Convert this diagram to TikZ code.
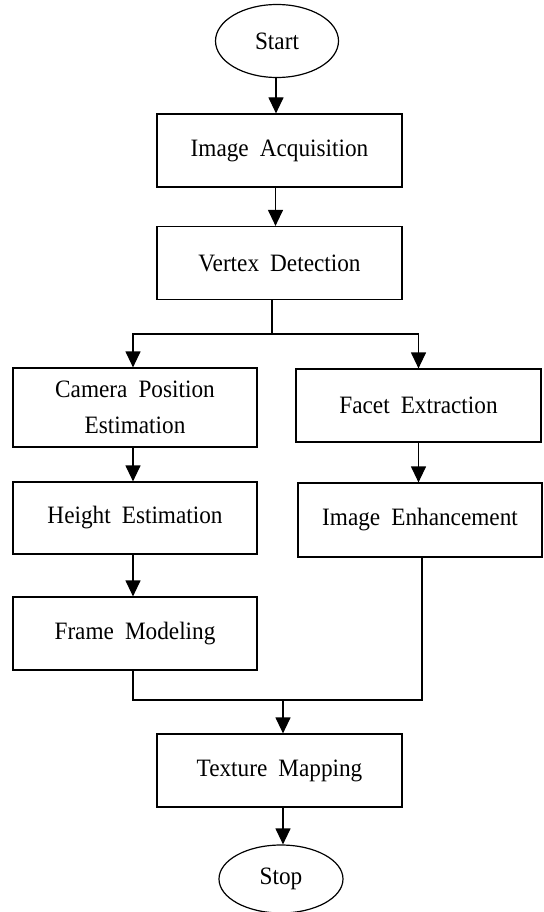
\documentclass[tikz,border=0pt]{standalone}
\usepackage{fontspec}
\setmainfont{Liberation Serif}[WordSpace=1.9,FakeStretch=0.93]
\usetikzlibrary{arrows.meta,shapes.geometric}
\begin{document}
\begin{tikzpicture}[x=1pt,y=-1pt,
  every node/.style={font=\fontsize{25}{36}\selectfont},
  procbox/.style={draw,line width=1.2pt,minimum width=245pt,minimum height=73pt,inner sep=0pt,align=center},
  term/.style={draw,ellipse,line width=1.2pt,minimum width=123pt,minimum height=73pt,inner sep=0pt},
  arr/.style={line width=1.2pt,-{Triangle[length=16pt,width=15pt]}},
  ln/.style={line width=1.2pt}]
\useasboundingbox (0,0) rectangle (543,912);
\node[term] (start) at (277,41) {Start};
\node[procbox] (acq) at (279.5,150.5) {Image Acquisition};
\node[procbox] (vert) at (279.5,263) {Vertex Detection};
\node[procbox,minimum width=244pt,minimum height=79pt] (cam) at (135,407.5) {Camera Position\\Estimation};
\node[procbox] (facet) at (418.5,405.5) {Facet Extraction};
\node[procbox,minimum width=244pt,minimum height=72pt] (height) at (135,518) {Height Estimation};
\node[procbox,minimum width=244pt,minimum height=74pt] (enh) at (420,520) {Image Enhancement};
\node[procbox,minimum width=244pt] (frame) at (135,633.5) {Frame Modeling};
\node[procbox] (tex) at (279.5,770.5) {Texture Mapping};
\node[term,minimum width=124pt,minimum height=68pt] (stop) at (281,879) {Stop};
\draw[arr] ([xshift=-1pt]start.south) -- ([xshift=-1pt]start.south |- acq.north);
\draw[arr] ([xshift=-4pt]acq.south) -- ([xshift=-4pt]acq.south |- vert.north);
\coordinate (br) at (272,334);
\draw[ln] (vert.south -| br) -- (br);
\draw[arr] (br) -| ([xshift=-2pt]cam.north);
\draw[arr] (br) -| (facet.north);
\draw[arr] ([xshift=-2pt]cam.south) -- ([xshift=-2pt]cam.south |- height.north);
\draw[arr] (facet.south) -- (facet.south |- enh.north);
\draw[arr] ([xshift=-2pt]height.south) -- ([xshift=-2pt]height.south |- frame.north);
\coordinate (mg) at (283,700);
\draw[ln] ([xshift=-2pt]frame.south) |- (mg);
\draw[ln] ([xshift=2pt]enh.south) |- (mg);
\draw[arr] (mg) -- (mg |- tex.north);
\draw[arr] (tex.south -| mg) -- (stop.north -| mg);
\end{tikzpicture}
\end{document}
